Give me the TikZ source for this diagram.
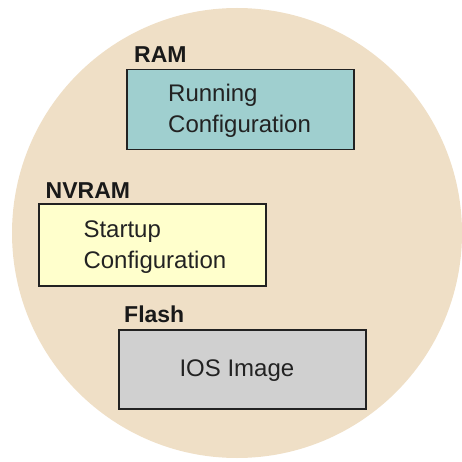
\documentclass[tikz,border=0pt]{standalone}
\usepackage{fontspec}
\setmainfont{Liberation Sans}
\definecolor{bgbeige}{HTML}{EFDFC6}
\definecolor{ramfill}{HTML}{9FCFCF}
\definecolor{nvfill}{HTML}{FFFFCC}
\definecolor{flfill}{HTML}{D0D0D0}
\definecolor{edge}{HTML}{222222}
\begin{document}
\begin{tikzpicture}[x=1pt,y=-1pt,
  membox/.style={draw=edge,line width=1.5pt,anchor=north west,inner sep=0pt},
  memlabel/.style={anchor=base west,inner sep=0pt,font=\fontsize{23}{27}\selectfont\bfseries,text=black!90},
  memtext/.style={anchor=base west,inner sep=0pt,font=\fontsize{24}{28}\selectfont,text=edge}]
\useasboundingbox (0,0) rectangle (462,462);
\fill[bgbeige] (237,233) circle[radius=225];
% RAM
\node[memlabel] (ramlbl) at (134,63) {RAM};
\node[membox,fill=ramfill,minimum width=227pt,minimum height=80pt] (ram) at (126,69) {};
\node[memtext] (run1) at (168,101.5) {Running};
\node[memtext] (run2) at (168,133) {Configuration};
% NVRAM
\node[memlabel] (nvlbl) at (45.5,198) {NVRAM};
\node[membox,fill=nvfill,minimum width=227pt,minimum height=82pt] (nvram) at (38.3,203) {};
\node[memtext] (st1) at (83.3,237.5) {Startup};
\node[memtext] (st2) at (83.3,268.3) {Configuration};
% Flash
\node[memlabel] (fllbl) at (124,322) {Flash};
\node[membox,fill=flfill,minimum width=247pt,minimum height=79pt] (flash) at (118.3,329) {};
\node[memtext] (ios) at (179.3,376) {IOS Image};
\end{tikzpicture}
\end{document}
